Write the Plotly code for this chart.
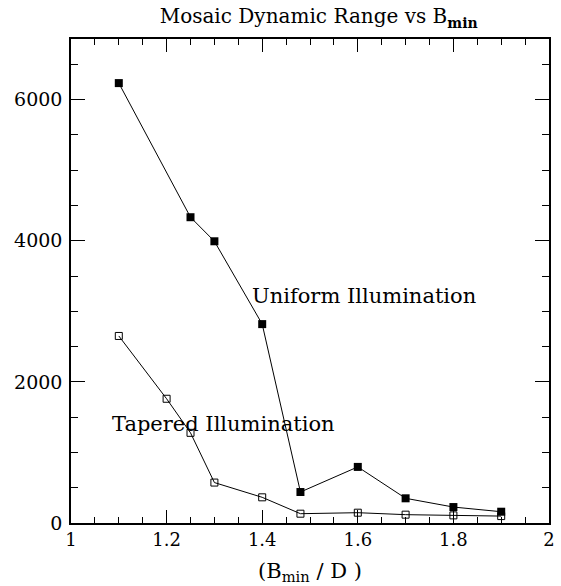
import plotly.graph_objects as go

x_uniform = [1.1, 1.25, 1.3, 1.4, 1.48, 1.6, 1.7, 1.8, 1.9]
y_uniform = [6235, 4334, 3993, 2819, 439, 795, 350, 226, 160]
x_tapered = [1.1, 1.2, 1.25, 1.3, 1.4, 1.48, 1.6, 1.7, 1.8, 1.9]
y_tapered = [2651, 1761, 1278, 573, 364, 132, 146, 118, 108, 98]

x_range = [1, 2]
y_range = [0, 6860]
x_ticks = [1, 1.2, 1.4, 1.6, 1.8, 2]
x_ticklabels = ["1", "1.2", "1.4", "1.6", "1.8", "2"]
y_ticks = [0, 2000, 4000, 6000]
y_ticklabels = ["0", "2000", "4000", "6000"]

FONT = "DejaVu Serif"

fig = go.Figure()
fig.add_trace(go.Scatter(
    x=x_uniform, y=y_uniform, mode="lines+markers",
    line=dict(color="black", width=1),
    marker=dict(symbol="square", size=8, color="black"),
    showlegend=False,
))
fig.add_trace(go.Scatter(
    x=x_tapered, y=y_tapered, mode="lines+markers",
    line=dict(color="black", width=1),
    marker=dict(symbol="square-open", size=7, color="black", line=dict(width=1)),
    showlegend=False,
))
# invisible trace for mirrored axes
fig.add_trace(go.Scatter(x=[1.5], y=[3000], xaxis="x2", yaxis="y2",
                         mode="markers", marker=dict(opacity=0),
                         showlegend=False, hoverinfo="skip"))

common = dict(showgrid=False, zeroline=False, showline=True, linecolor="black",
              linewidth=1.5, ticks="inside", tickcolor="black", tickwidth=1)

fig.update_layout(
    width=561, height=586,
    margin=dict(l=71, r=6, t=39, b=63),
    paper_bgcolor="white", plot_bgcolor="white",
    font=dict(family=FONT, color="black", size=18),
    title=dict(text="Mosaic Dynamic Range vs B<sub><b>min</b></sub>",
               x=0.568, xanchor="center", y=0.972, yanchor="middle",
               font=dict(size=20, family=FONT)),
    xaxis=dict(range=x_range, tickmode="array", tickvals=x_ticks,
               ticktext=x_ticklabels, ticklen=13,
               minor=dict(ticks="inside", ticklen=6, dtick=0.05, tick0=1,
                          tickcolor="black", showgrid=False),
               title=dict(text="(B<sub>min</sub> / D )", font=dict(size=21), standoff=14),
               tickfont=dict(size=18), **common),
    yaxis=dict(range=y_range, tickmode="array", tickvals=y_ticks,
               ticktext=y_ticklabels, ticklen=14, ticklabelstandoff=3,
               minor=dict(ticks="inside", ticklen=7, dtick=500, tick0=0,
                          tickcolor="black", showgrid=False),
               tickfont=dict(size=19), **common),
    xaxis2=dict(range=x_range, overlaying="x", side="top", anchor="y",
                tickmode="array", tickvals=x_ticks, showticklabels=False,
                ticklen=13,
                minor=dict(ticks="inside", ticklen=6, dtick=0.05, tick0=1,
                           tickcolor="black", showgrid=False), **common),
    yaxis2=dict(range=y_range, overlaying="y", side="right", anchor="x",
                tickmode="array", tickvals=y_ticks, showticklabels=False,
                ticklen=14,
                minor=dict(ticks="inside", ticklen=7, dtick=500, tick0=0,
                           tickcolor="black", showgrid=False), **common),
    annotations=[
        dict(x=1.374, y=3211, xref="x", yref="y", text="Uniform Illumination",
             showarrow=False, xanchor="left", yanchor="middle",
             font=dict(size=21, family=FONT)),
        dict(x=1.081, y=1402, xref="x", yref="y", text="Tapered Illumination",
             showarrow=False, xanchor="left", yanchor="middle",
             font=dict(size=21, family=FONT)),
    ],
)

fig.write_html("out.html")
